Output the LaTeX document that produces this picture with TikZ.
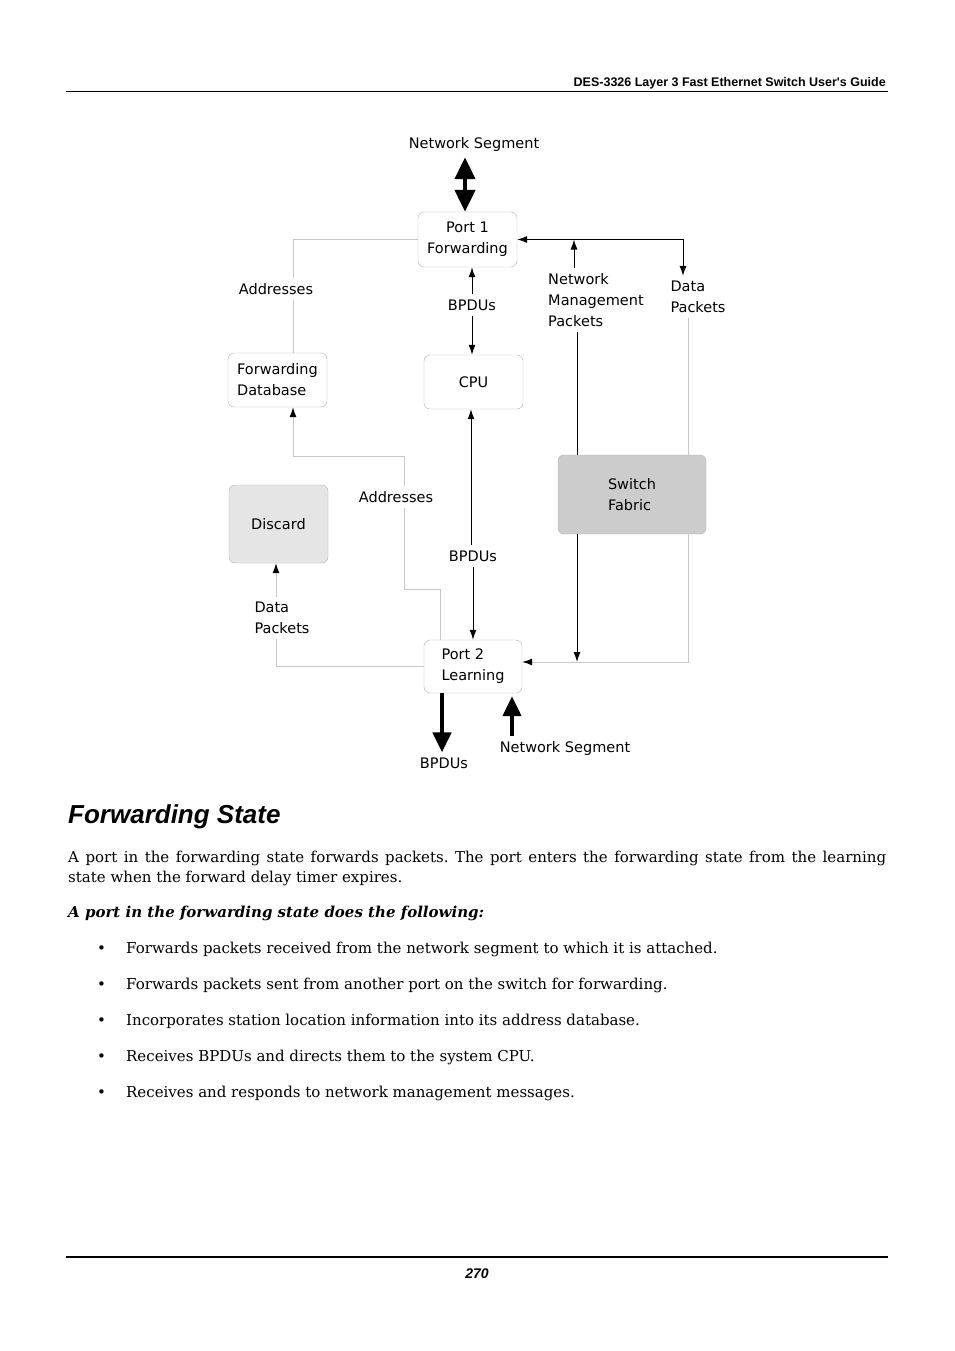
\documentclass[tikz,border=0pt]{standalone}
\usepackage{fontspec}
\setmainfont{DejaVu Serif}
\newfontfamily\diagfont{DejaVu Sans}
\newfontfamily\headfont{Liberation Sans}
\usetikzlibrary{arrows.meta}
\frenchspacing

\begin{document}
\begin{tikzpicture}[x=1pt,y=-1pt,>={Latex[length=10pt,width=7pt]},
    box/.style={draw=black!30, rounded corners=6pt, align=left, inner sep=0pt,
      minimum width=99pt, minimum height=55pt, font=\diagfont\fontsize{14.5}{21}\selectfont},
    lbl/.style={align=left, inner sep=5pt, font=\diagfont\fontsize{14.5}{21}\selectfont},
    wire/.style={black!22, line width=1pt},
    flow/.style={black, line width=1pt},
    fat/.style={line width=4.5pt, {Triangle[length=22pt,width=20pt]}-{Triangle[length=22pt,width=20pt]}},
    fatend/.style={line width=4.5pt, -{Triangle[length=20pt,width=18pt]}}]
    \useasboundingbox (0,0) rectangle (954,1351);
    \fill[white] (0,0) rectangle (954,1351);
    % page head
    \node[anchor=base east, inner sep=0pt, font=\headfont\bfseries\fontsize{12.5}{15}\selectfont]
      (head) at (886,87) {DES-3326 Layer 3 Fast Ethernet Switch User's Guide};
    \draw[line width=1pt] (66,91.5) -- (888,91.5);
    % boxes
    \node[box, align=center] (port1) at (467.5,239.5) {Port 1\\Forwarding};
    \node[box, minimum height=54pt] (fdb) at (277.5,380) {Forwarding\\Database};
    \node[box, minimum height=54pt] (cpu) at (473.5,382) {CPU};
    \node[box, fill=black!10, minimum height=78pt] (discard) at (278.5,524) {Discard};
    \node[box, fill=black!20, minimum width=148pt, minimum height=79pt] (sf) at (632,494.5) {Switch\\Fabric};
    \node[box, minimum width=98pt, minimum height=53pt] (port2) at (473,666.5) {Port 2\\Learning};
    % labels
    \node[lbl] (seg1) at (474,145) {Network Segment};
    \node[lbl] (addr1) at (276,289) {Addresses};
    \node[lbl] (bpdu1) at (472,305) {BPDUs};
    \node[lbl] (nmp) at (596,300) {Network\\Management\\Packets};
    \node[lbl] (data1) at (698,297) {Data\\Packets};
    \node[lbl] (addr2) at (396,497) {Addresses};
    \node[lbl] (bpdu2) at (473,556) {BPDUs};
    \node[lbl] (data2) at (282,618) {Data\\Packets};
    \node[lbl] (bpdu3) at (444,763) {BPDUs};
    \node[lbl] (seg2) at (565,748) {Network Segment};
    % helper points
    \coordinate (p2in) at ([yshift=4.5pt]port2.east);
    \coordinate (fdbup) at ([xshift=15.5pt]fdb.north);
    \coordinate (fdbdn) at ([xshift=15.5pt]fdb.south);
    \coordinate (a2lo) at ([xshift=8pt]addr2.south);
    \coordinate (a2hi) at ([xshift=8pt]addr2.north);
    \coordinate (nmpin) at ([xshift=-55pt]sf.north);
    \coordinate (nmpout) at ([xshift=-55pt]sf.south);
    % network segments
    \draw[fat] ([xshift=-2.5pt]port1.north) -- ([xshift=-2.5pt]port1.north |- seg1.south);
    \draw[fatend] ([xshift=-31pt]port2.south) -- ([xshift=-31pt]port2.south |- bpdu3.north);
    \draw[fatend, shorten >=3pt] ([xshift=39pt]port2.south |- seg2.north) -- ([xshift=39pt]port2.south);
    % BPDUs
    \draw[flow,->] (bpdu1.north) -- (bpdu1.north |- port1.south);
    \draw[flow,->] (bpdu1.south) -- (bpdu1.south |- cpu.north);
    \draw[flow,->] ([xshift=-2pt]bpdu2.north) -- ([xshift=-2pt]bpdu2.north |- cpu.south);
    \draw[flow,->] (bpdu2.south) -- (bpdu2.south |- port2.north);
    % addresses
    \draw[wire] (port1.west) -| (fdbup |- addr1.north);
    \draw[wire] (fdbup |- addr1.south) -- (fdbup);
    \draw[wire] ([xshift=-33pt]port2.north) -- ++(0,-50) -| (a2lo);
    \draw[wire, -{Latex[length=10pt,width=7pt,color=black]}] (a2hi) -- ++(0,-30) -| (fdbdn);
    % management and data packets
    \draw[flow,->] ([xshift=-22pt]nmp.north) -- ([xshift=-22pt]nmp.north |- port1.east);
    \draw[flow] (nmpin) -- (nmpin |- nmp.south);
    \draw[flow,<->] (port1.east) -| ([xshift=-15pt]data1.north);
    \draw[wire] ([xshift=-10pt]data1.south) -- ([xshift=-10pt]data1.south |- sf.north);
    \draw[wire, -{Latex[length=10pt,width=7pt,color=black]}] ([xshift=56pt]sf.south) |- (p2in);
    \draw[flow,->] (nmpout) -- (nmpout |- p2in);
    \draw[wire, -{Latex[length=10pt,width=7pt,color=black]}] ([xshift=-6pt]data2.north) -- ([xshift=-6pt]data2.north |- discard.south);
    \draw[wire] (port2.west) -| ([xshift=-6pt]data2.south);
    % text below
    \node[anchor=base west, inner sep=0pt, font=\headfont\bfseries\itshape\fontsize{26}{30}\selectfont]
      (title) at (68,823) {Forwarding State};
    \node[anchor=north west, inner sep=0pt, text width=818pt, align=justify, font=\fontsize{15}{20}\selectfont]
      (intro) at (68,850.5) {A port in the forwarding state forwards packets. The port enters the forwarding state from the learning\linebreak state when the forward delay timer expires.};
    \node[anchor=base west, inner sep=0pt, font=\bfseries\itshape\fontsize{15}{20}\selectfont]
      (lead) at (68,917) {A port in the forwarding state does the following:};
    \foreach \txt [count=\i] in {Forwards packets received from the network segment to which it is attached.,
        Forwards packets sent from another port on the switch for forwarding.,
        Incorporates station location information into its address database.,
        Receives BPDUs and directs them to the system CPU.,
        Receives and responds to network management messages.}{
      \node[anchor=base west, inner sep=0pt, font=\fontsize{15}{20}\selectfont] (bul\i) at (97,917+36*\i) {\textbullet};
      \node[anchor=base west, inner sep=0pt, font=\fontsize{15}{20}\selectfont] (item\i) at (126,917+36*\i) {\txt};
    }
    % page foot
    \draw[line width=2pt] (66,1257) -- (888,1257);
    \node[anchor=base, inner sep=0pt, font=\headfont\bfseries\itshape\fontsize{14}{16}\selectfont]
      (pageno) at (477,1278) {270};
\end{tikzpicture}
\end{document}
